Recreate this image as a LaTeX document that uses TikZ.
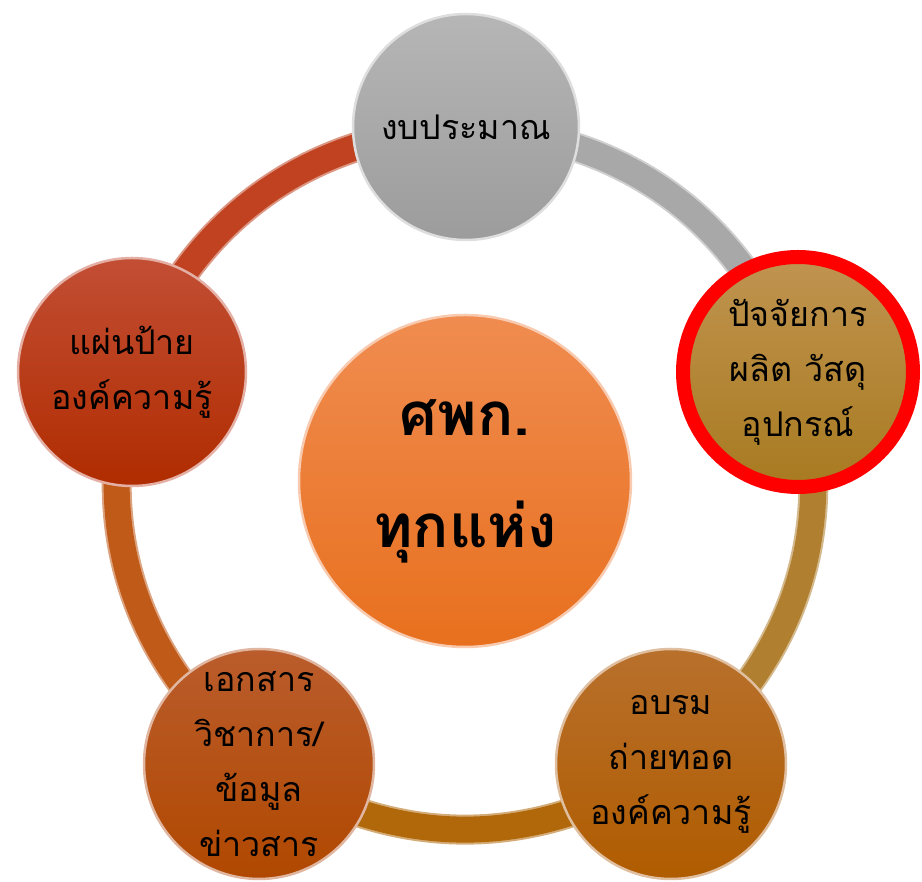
\documentclass[tikz,border=0pt]{standalone}
\usepackage{fontspec}
\usepackage{tikz}
\usetikzlibrary{backgrounds,calc}
\newfontfamily\thaifont[Script=Thai]{Loma}
\definecolor{greyTop}{RGB}{182,182,182}
\definecolor{greyBot}{RGB}{156,156,156}
\definecolor{goldTop}{RGB}{192,148,80}
\definecolor{goldBot}{RGB}{168,122,32}
\definecolor{redTop}{RGB}{194,78,52}
\definecolor{redBot}{RGB}{176,44,0}
\definecolor{amberTop}{RGB}{184,112,44}
\definecolor{amberBot}{RGB}{176,92,0}
\definecolor{rustTop}{RGB}{186,92,44}
\definecolor{rustBot}{RGB}{176,72,0}
\definecolor{coreTop}{RGB}{240,140,80}
\definecolor{coreBot}{RGB}{232,112,30}
\definecolor{segGrey}{RGB}{168,168,168}
\definecolor{segGold}{RGB}{176,128,48}
\definecolor{segAmber}{RGB}{176,104,10}
\definecolor{segRust}{RGB}{192,90,24}
\definecolor{segRed}{RGB}{192,66,32}
\definecolor{ringRed}{RGB}{255,0,0}

\begin{document}
\begin{tikzpicture}[x=1pt, y=1pt,
  ball/.style 2 args={circle, top color=#1, bottom color=#2, draw=#1!45!white,
    line width=2.5pt, inner sep=0pt, align=center, text=black,
    font=\thaifont\fontsize{34}{55}\selectfont},
  seg/.style={draw=#1!55!white, double=#1, double distance=26pt, line width=2pt},
]
\useasboundingbox (0,0) rectangle (922,882);

% centre: all centres
\node[ball={coreTop}{coreBot}, minimum size=332pt,
  font=\thaifont\bfseries\fontsize{60}{112}\selectfont] (core) at (465,401) {ศพก.\\ทุกแห่ง};

% top: budget
\node[ball={greyTop}{greyBot}, minimum size=226pt] (budget) at (466,755) {งบประมาณ};

% right: production inputs (red rim)
\node[ball={goldTop}{goldBot}, draw=ringRed, line width=14pt, minimum size=230pt]
  (inputs) at (798,510) {ปัจจัยการ\\ผลิต วัสดุ\\อุปกรณ์};

% bottom right: training
\node[ball={amberTop}{amberBot}, minimum size=230pt] (training) at (671,118)
  {อบรม\\ถ่ายทอด\\องค์ความรู้};

% bottom left: documents
\node[ball={rustTop}{rustBot}, minimum size=230pt] (docs) at (259,118)
  {เอกสาร\\วิชาการ/\\ข้อมูล\\ข่าวสาร};

% left: signboards
\node[ball={redTop}{redBot}, minimum size=228pt] (boards) at (132,510)
  {แผ่นป้าย\\องค์ความรู้};

% ring behind the circles
\begin{scope}[on background layer]
  \draw[seg=segGrey]  (budget.center)   to[bend left=33] (inputs.center);
  \draw[seg=segGold]  (inputs.center)   to[bend left=33] (training.center);
  \draw[seg=segAmber] (training.center) to[bend left=33] (docs.center);
  \draw[seg=segRust]  (docs.center)     to[bend left=33] (boards.center);
  \draw[seg=segRed]   (boards.center)   to[bend left=33] (budget.center);
\end{scope}

\end{tikzpicture}
\end{document}
